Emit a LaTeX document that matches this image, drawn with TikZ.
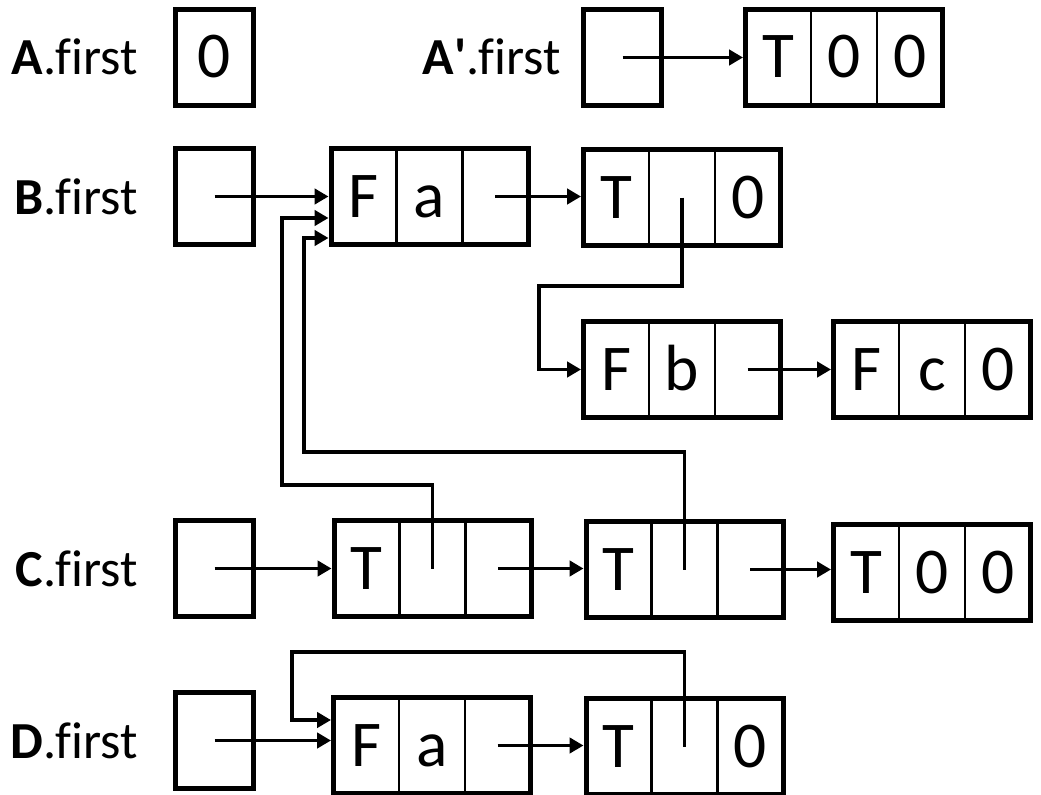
\documentclass[tikz,border=0pt]{standalone}
\usepackage{fontspec}
\setmainfont{Carlito}[Ligatures=NoCommon]
\usetikzlibrary{arrows.meta}
\tikzset{
  sbox/.style={draw, line width=3.75pt, minimum width=58.5pt, minimum height=72pt, inner sep=0pt},
  tbox/.style={draw, line width=3.75pt, minimum width=147.75pt, minimum height=72pt, inner sep=0pt},
  divline/.style={line width=1.9pt},
  cell/.style={anchor=base, inner sep=0pt, font=\fontsize{49}{49}\selectfont},
  lab/.style={anchor=base east, inner sep=0pt, font=\fontsize{39}{39}\selectfont},
  ptr/.style={line width=2.6pt, line join=miter, -{Triangle[length=10.5pt,width=11.5pt]}}
}
\newcommand\sbx[4]{%
  \node[sbox] (#1) at (#2,#3) {};
  \coordinate (#1-c) at (#2,#3);
  \node[cell] (#1-t) at (#2,{#3+20.5}) {#4};
}
\newcommand\tbx[6]{%
  \node[tbox] (#1) at (#2,#3) {};
  \draw[divline] ({#2-32.83},{#3-48}) -- ({#2-32.83},{#3+48});
  \draw[divline] ({#2+32.83},{#3-48}) -- ({#2+32.83},{#3+48});
  \coordinate (#1-1) at ({#2-65.67},#3);
  \coordinate (#1-2) at (#2,#3);
  \coordinate (#1-3) at ({#2+65.67},#3);
  \node[cell] (#1-t1) at ({#2-65.67},{#3+20.5}) {#4};
  \node[cell] (#1-t2) at (#2,{#3+20.5}) {#5};
  \node[cell] (#1-t3) at ({#2+65.67},{#3+20.5}) {#6};
}
\begin{document}
\begin{tikzpicture}[x=0.75pt,y=-0.75pt]
\useasboundingbox (0,0) rectangle (1041,795);
% labels
\node[lab] (lA) at (138,75) {\textbf{A}.first};
\node[lab] (lAp) at (561,75) {\textbf{A\textquotesingle}.first};
\node[lab] (lB) at (138,214) {\textbf{B}.first};
\node[lab] (lC) at (138,586) {\textbf{C}.first};
\node[lab] (lD) at (138,758) {\textbf{D}.first};
% row A
\sbx{A}{214.5}{57.5}{0}
\sbx{Ap}{622.5}{57.5}{}
\tbx{AT}{844}{57.5}{T}{0}{0}
% row B
\sbx{B}{214.5}{196.5}{}
\tbx{BFa}{429.5}{196.5}{F}{a}{}
\tbx{BT0}{682}{197.5}{T}{}{0}
\tbx{Fb}{682}{369.5}{F}{b}{}
\tbx{Fc}{932}{369.5}{F}{c}{0}
% row C
\sbx{C}{214.5}{568.5}{}
\tbx{CT1}{432.5}{568.5}{T}{}{}
\tbx{CT2}{684.5}{569.5}{T}{}{}
\tbx{CT3}{932}{572.5}{T}{0}{0}
% row D
\sbx{D}{214.5}{740.5}{}
\tbx{DFa}{432}{745.5}{F}{a}{}
\tbx{DT0}{684.5}{746.5}{T}{}{0}
% pointers
\draw[ptr] (Ap-c) -- (Ap-c -| AT.west);
\draw[ptr] (B-c) -- (B-c -| BFa.west);
\draw[ptr] (BFa-3) -- (BFa-3 -| BT0.west);
\draw[ptr] (BT0-2) |- (539,286) |- (Fb.west);
\draw[ptr] (Fb-3) -- (Fb-3 -| Fc.west);
\draw[ptr] (C-c) -- (C-c -| CT1.west);
\draw[ptr] (CT1-3) -- (CT1-3 -| CT2.west);
\draw[ptr] (CT2-3) -- (CT2-3 -| CT3.west);
\draw[ptr] (CT1-2) |- (282,485) |- (BFa.west |- 0,218);
\draw[ptr] (CT2-2) |- (304,452) |- (BFa.west |- 0,238);
\draw[ptr] (D-c) -- (D-c -| DFa.west);
\draw[ptr] (DFa-3) -- (DFa-3 -| DT0.west);
\draw[ptr] (DT0-2) |- (292,652) |- (DFa.west |- 0,720);
\end{tikzpicture}
\end{document}
